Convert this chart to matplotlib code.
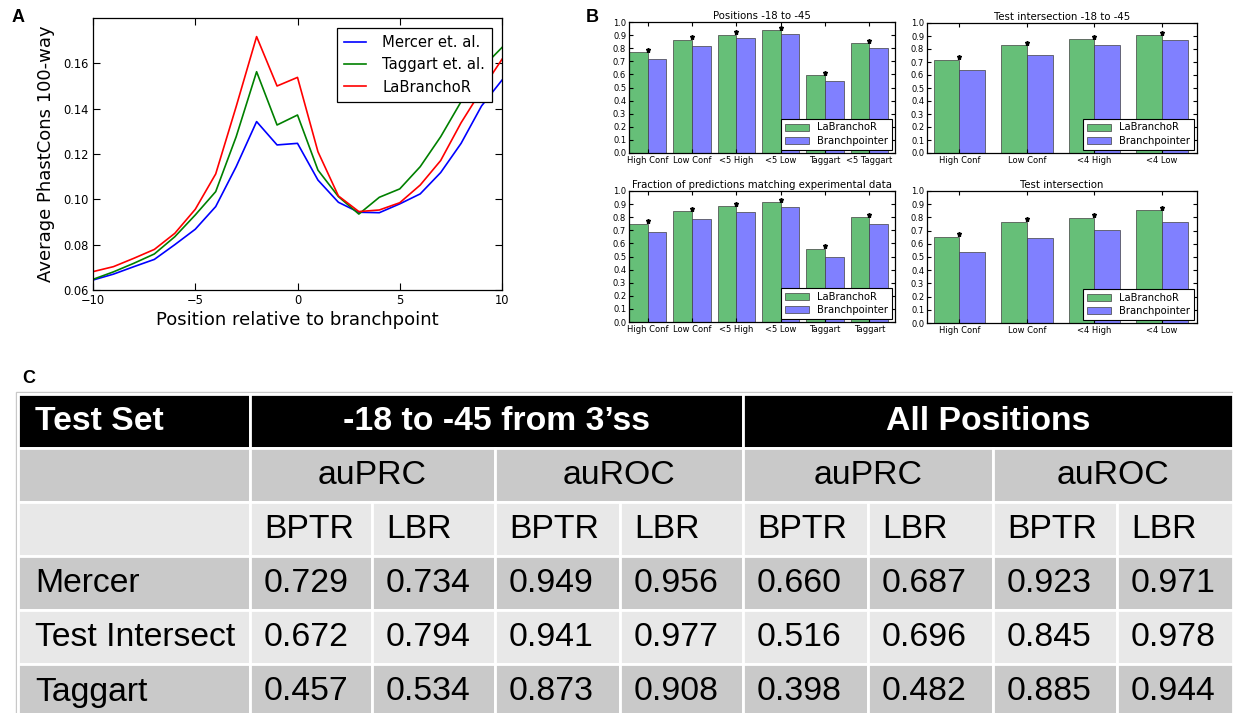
import matplotlib
matplotlib.use("Agg")
import matplotlib.pyplot as plt
from matplotlib.patches import Rectangle
import numpy as np

# ---------------- Data ----------------
positions = list(range(-10, 11))
mercer = [0.0644, 0.0670, 0.0703, 0.0735, 0.0800, 0.0868, 0.0968, 0.1144, 0.1343, 0.1240,
          0.1247, 0.1085, 0.0987, 0.0943, 0.0941, 0.0980, 0.1024, 0.1118, 0.1247, 0.1412, 0.1526]
taggart = [0.0647, 0.0680, 0.0718, 0.0759, 0.0835, 0.0931, 0.1034, 0.1276, 0.1563, 0.1328,
           0.1372, 0.1129, 0.1012, 0.0935, 0.1009, 0.1046, 0.1144, 0.1276, 0.1431, 0.1578, 0.1670]
labranchor = [0.0681, 0.0703, 0.0740, 0.0779, 0.0850, 0.0956, 0.1112, 0.1409, 0.1718, 0.1500,
              0.1538, 0.1210, 0.1015, 0.0946, 0.0953, 0.0985, 0.1063, 0.1171, 0.1338, 0.1482, 0.1618]

b_tl_title = "Positions -18 to -45"
b_tl_cats = ["High Conf", "Low Conf", "<5 High", "<5 Low", "Taggart", "<5 Taggart"]
b_tl_lbr = [0.770, 0.866, 0.903, 0.936, 0.594, 0.838]
b_tl_bp = [0.721, 0.820, 0.876, 0.908, 0.548, 0.800]

b_tr_title = "Test intersection -18 to -45"
b_tr_cats = ["High Conf", "Low Conf", "<4 High", "<4 Low"]
b_tr_lbr = [0.719, 0.829, 0.875, 0.904]
b_tr_bp = [0.638, 0.753, 0.829, 0.866]

b_bl_title = "Fraction of predictions matching experimental data"
b_bl_cats = ["High Conf", "Low Conf", "<5 High", "<5 Low", "Taggart", "Taggart"]
b_bl_lbr = [0.751, 0.846, 0.883, 0.915, 0.560, 0.798]
b_bl_bp = [0.688, 0.786, 0.841, 0.878, 0.500, 0.745]

b_br_title = "Test intersection"
b_br_cats = ["High Conf", "Low Conf", "<4 High", "<4 Low"]
b_br_lbr = [0.651, 0.765, 0.798, 0.854]
b_br_bp = [0.537, 0.647, 0.704, 0.765]

tbl_header = ["Test Set", "-18 to -45 from 3\u2019ss", "All Positions"]
tbl_metrics = ["auPRC", "auROC", "auPRC", "auROC"]
tbl_methods = ["BPTR", "LBR"] * 4
tbl_rows = ["Mercer", "Test Intersect", "Taggart"]
tbl_values = [
    ["0.729", "0.734", "0.949", "0.956", "0.660", "0.687", "0.923", "0.971"],
    ["0.672", "0.794", "0.941", "0.977", "0.516", "0.696", "0.845", "0.978"],
    ["0.457", "0.534", "0.873", "0.908", "0.398", "0.482", "0.885", "0.944"],
]

# ---------------- Figure ----------------
W, H = 1233, 713
fig = plt.figure(figsize=(W / 100, H / 100), dpi=100)
plt.rcParams['font.family'] = ['DejaVu Sans']


def ax_px(x0, y0, x1, y1):
    return fig.add_axes([x0 / W, 1 - y1 / H, (x1 - x0) / W, (y1 - y0) / H])


def classic_ticks(ax, size, length=4):
    ax.tick_params(direction='in', top=True, right=True, labelsize=size,
                   length=length, width=0.8, pad=3)
    for s in ax.spines.values():
        s.set_linewidth(0.9)


# ---------------- Table (panel C) ----------------
tax = fig.add_axes([0, 0, 1, 1], zorder=0)
tax.set_xlim(0, W)
tax.set_ylim(H, 0)
tax.axis('off')

col_edges = [18, 250, 372, 495, 620, 743, 868, 993, 1117, 1233]
row_edges = [394, 448, 502, 556, 610, 664, 718]
gray = '#c9c9c9'
light = '#e8e8e8'
tfont = ['Liberation Sans', 'DejaVu Sans']
fs = 24.3

# outer border
tax.add_patch(Rectangle((col_edges[0] - 2, row_edges[0] - 2),
                        col_edges[-1] - col_edges[0] + 6, row_edges[-1] - row_edges[0] + 4,
                        facecolor='white', edgecolor='#c8c8c8', linewidth=1.0))


def cell(x0, x1, r, color):
    tax.add_patch(Rectangle((x0, row_edges[r]), x1 - x0, row_edges[r + 1] - row_edges[r],
                            facecolor=color, edgecolor='white', linewidth=2.0))


def mid(r):
    return (row_edges[r] + row_edges[r + 1]) / 2 + 1

# header row
cell(col_edges[0], col_edges[1], 0, 'black')
cell(col_edges[1], col_edges[5], 0, 'black')
cell(col_edges[5], col_edges[9], 0, 'black')
tax.text(col_edges[0] + 17, mid(0), tbl_header[0], color='white', fontsize=fs,
         fontweight='bold', family=tfont, ha='left', va='center')
tax.text((col_edges[1] + col_edges[5]) / 2, mid(0), tbl_header[1], color='white', fontsize=fs,
         fontweight='bold', family=tfont, ha='center', va='center')
tax.text((col_edges[5] + col_edges[9]) / 2, mid(0), tbl_header[2], color='white', fontsize=fs,
         fontweight='bold', family=tfont, ha='center', va='center')

# metric row
cell(col_edges[0], col_edges[1], 1, gray)
for k, m in enumerate(tbl_metrics):
    x0, x1 = col_edges[1 + 2 * k], col_edges[3 + 2 * k]
    cell(x0, x1, 1, gray)
    tax.text((x0 + x1) / 2, mid(1), m, fontsize=fs, family=tfont, ha='center', va='center')

# method row
cell(col_edges[0], col_edges[1], 2, light)
for k, m in enumerate(tbl_methods):
    x0, x1 = col_edges[1 + k], col_edges[2 + k]
    cell(x0, x1, 2, light)
    tax.text(x0 + 14, mid(2), m, fontsize=fs, family=tfont, ha='left', va='center')

# data rows
for i, (lab, vals) in enumerate(zip(tbl_rows, tbl_values)):
    r = 3 + i
    color = gray if i % 2 == 0 else light
    cell(col_edges[0], col_edges[1], r, color)
    tax.text(col_edges[0] + 17, mid(r), lab, fontsize=fs, family=tfont, ha='left', va='center')
    for k, v in enumerate(vals):
        x0, x1 = col_edges[1 + k], col_edges[2 + k]
        cell(x0, x1, r, color)
        tax.text(x0 + 14, mid(r), v, fontsize=fs, family=tfont, ha='left', va='center')

# ---------------- Panel A ----------------
axA = ax_px(93, 18, 502, 290)
axA.plot(positions, mercer, color='blue', lw=1.2, label='Mercer et. al.')
axA.plot(positions, taggart, color='green', lw=1.2, label='Taggart et. al.')
axA.plot(positions, labranchor, color='red', lw=1.2, label='LaBranchoR')
axA.set_xlim(-10, 10)
axA.set_ylim(0.06, 0.18)
axA.set_xticks([-10, -5, 0, 5, 10])
axA.set_yticks([0.06, 0.08, 0.10, 0.12, 0.14, 0.16])
axA.set_yticklabels(['0.06', '0.08', '0.10', '0.12', '0.14', '0.16'])
classic_ticks(axA, 8.3, length=5)
axA.set_xlabel('Position relative to branchpoint', fontsize=13, labelpad=3)
axA.set_ylabel('Average PhastCons 100-way', fontsize=13, labelpad=6)
legA = axA.legend(loc='upper right', fontsize=10.6, fancybox=False, framealpha=1,
                  edgecolor='black', handlelength=1.5, handletextpad=1.1,
                  borderaxespad=0.65, labelspacing=0.5, borderpad=0.5)
legA.get_frame().set_linewidth(0.9)

# ---------------- Panel B ----------------
green_c = '#66bf78'
blue_c = '#8080ff'


def bar_panel(box, title, cats, lbr, bp, width, xlim):
    ax = ax_px(*box)
    x = np.arange(len(cats))
    ax.bar(x, lbr, width, align='edge', color=green_c, edgecolor='#404040',
           linewidth=0.5, label='LaBranchoR')
    ax.bar(x + width, bp, width, align='edge', color=blue_c, edgecolor='#404040',
           linewidth=0.5, label='Branchpointer')
    ax.plot(x + width, np.array(lbr) + 0.02, linestyle='none', marker='*',
            color='black', markersize=3.6)
    ax.set_xlim(*xlim)
    ax.set_ylim(0, 1.0)
    ax.set_xticks(x + width)
    ax.set_xticklabels(cats)
    ax.set_yticks(np.arange(0, 1.01, 0.1))
    ax.set_yticklabels([f'{v:.1f}' for v in np.arange(0, 1.01, 0.1)])
    classic_ticks(ax, 6.0, length=3)
    ax.tick_params(pad=2)
    ax.set_title(title, fontsize=7.3, pad=2.5)
    leg = ax.legend(loc='lower right', fontsize=7.2, fancybox=False, framealpha=1,
                    edgecolor='black', handlelength=2.4, borderaxespad=0.35,
                    labelspacing=0.3, borderpad=0.4)
    leg.get_frame().set_linewidth(0.8)
    return ax

bar_panel((629, 22, 895, 153), b_tl_title, b_tl_cats, b_tl_lbr, b_tl_bp, 0.42, (0, 6))
bar_panel((927, 23, 1197, 153), b_tr_title, b_tr_cats, b_tr_lbr, b_tr_bp, 0.38, (-0.1, 3.9))
bar_panel((629, 191, 895, 322), b_bl_title, b_bl_cats, b_bl_lbr, b_bl_bp, 0.42, (0, 6))
bar_panel((927, 191, 1197, 323), b_br_title, b_br_cats, b_br_lbr, b_br_bp, 0.38, (-0.1, 3.9))

# ---------------- Panel labels ----------------
lab_font = ['Liberation Sans', 'DejaVu Sans']
fig.text(12 / W, 1 - 18 / H, 'A', fontsize=13, fontweight='bold', family=lab_font, va='center')
fig.text(586 / W, 1 - 18 / H, 'B', fontsize=13, fontweight='bold', family=lab_font, va='center')
fig.text(22 / W, 1 - 378 / H, 'C', fontsize=13, fontweight='bold', family=lab_font, va='center')

fig.savefig('out.png', dpi=100)
